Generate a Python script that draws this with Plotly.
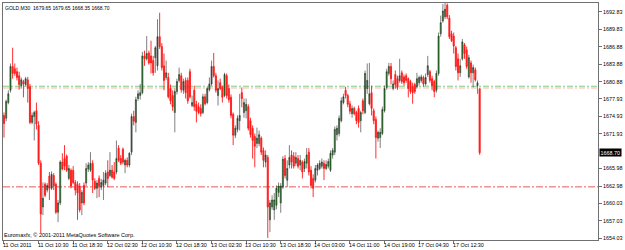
import plotly.graph_objects as go

opens = [
1675.1, 1674.6, 1677.3, 1679.4, 1683.5, 1683.1, 1682.6, 1681.9, 1680.2, 1680.9,
1680.4, 1681.2, 1680.0, 1673.9, 1674.9, 1675.9, 1673.4, 1666.9, 1659.4, 1663.3,
1662.3, 1664.7, 1662.6, 1664.8, 1663.3, 1658.5, 1660.1, 1667.1, 1667.7, 1668.1,
1664.3, 1665.7, 1665.7, 1663.6, 1663.3, 1663.0, 1660.1, 1663.1, 1663.5, 1665.9,
1665.7, 1666.9, 1663.8, 1662.6, 1664.3, 1662.8, 1663.1, 1663.5, 1665.4, 1664.8,
1665.7, 1665.4, 1665.4, 1669.5, 1667.7, 1669.3, 1666.6, 1667.4, 1666.6, 1668.8,
1674.9, 1673.9, 1678.0, 1678.5, 1679.0, 1685.3, 1684.8, 1685.8, 1685.3, 1684.5,
1685.0, 1683.6, 1688.6, 1686.9, 1683.6, 1681.6, 1681.6, 1679.7, 1678.5, 1675.6,
1679.2, 1681.1, 1681.9, 1679.4, 1681.1, 1681.1, 1682.6, 1676.8, 1679.4, 1677.0,
1676.6, 1676.3, 1675.6, 1678.3, 1677.3, 1679.5, 1680.5, 1683.5, 1681.9, 1678.5,
1680.7, 1679.9, 1678.5, 1681.9, 1679.7, 1678.2, 1675.3, 1671.7, 1672.7, 1674.2,
1679.0, 1675.6, 1675.9, 1676.6, 1674.2, 1672.9, 1671.5, 1670.3, 1670.3, 1671.2,
1669.1, 1667.1, 1667.9, 1657.2, 1659.4, 1658.9, 1659.7, 1661.9, 1660.1, 1662.8,
1667.7, 1664.0, 1666.6, 1668.3, 1668.1, 1666.9, 1667.7, 1666.6, 1667.1, 1666.0,
1666.9, 1668.8, 1665.7, 1664.3, 1664.0, 1665.7, 1666.0, 1666.4, 1666.9, 1666.0,
1666.4, 1665.7, 1668.3, 1668.8, 1671.8, 1672.0, 1674.2, 1677.3, 1679.4, 1678.5,
1677.1, 1675.4, 1676.3, 1675.6, 1676.3, 1674.2, 1677.6, 1675.6, 1679.7, 1677.1,
1679.0, 1675.9, 1674.4, 1671.2, 1671.3, 1672.0, 1675.9, 1679.9, 1682.3, 1683.5,
1679.7, 1682.1, 1681.4, 1681.1, 1682.4, 1681.7, 1681.9, 1681.4, 1680.9, 1680.0,
1680.4, 1680.0, 1680.7, 1681.1, 1681.6, 1680.5, 1682.1, 1682.6, 1681.4, 1680.9,
1679.4, 1682.3, 1689.1, 1691.3, 1692.0, 1694.0, 1691.8, 1689.1, 1688.7, 1686.7,
1684.8, 1682.4, 1684.8, 1687.2, 1686.3, 1681.7, 1684.1, 1682.4, 1682.9, 1680.2,
1679.65]

highs = [
1675.6, 1677.8, 1679.4, 1684.0, 1686.7, 1684.0, 1683.3, 1682.6, 1681.6, 1681.2,
1681.7, 1681.7, 1680.5, 1675.6, 1675.9, 1677.3, 1674.1, 1667.4, 1663.6, 1663.6,
1663.5, 1665.4, 1665.5, 1665.2, 1663.6, 1660.6, 1667.4, 1668.6, 1670.0, 1668.4,
1666.6, 1666.0, 1666.4, 1664.0, 1663.8, 1663.5, 1662.3, 1663.6, 1666.9, 1667.1,
1668.8, 1667.4, 1664.3, 1664.0, 1664.8, 1664.2, 1665.4, 1665.7, 1667.4, 1668.8,
1666.6, 1667.1, 1670.8, 1670.0, 1668.3, 1669.6, 1667.7, 1667.9, 1668.8, 1675.4,
1675.9, 1678.3, 1679.4, 1680.5, 1686.0, 1686.2, 1688.7, 1686.2, 1687.9, 1685.3,
1687.0, 1691.6, 1692.7, 1687.5, 1685.7, 1684.5, 1682.4, 1680.4, 1679.4, 1679.7,
1681.4, 1683.3, 1682.4, 1681.4, 1681.6, 1681.6, 1683.1, 1678.5, 1680.2, 1677.6,
1677.3, 1677.0, 1678.8, 1678.8, 1680.0, 1681.6, 1684.5, 1685.8, 1682.4, 1681.1,
1681.4, 1680.2, 1682.4, 1682.3, 1680.4, 1678.7, 1675.6, 1673.4, 1675.1, 1678.8,
1679.9, 1678.0, 1678.0, 1677.0, 1674.7, 1673.4, 1672.0, 1673.0, 1672.5, 1671.5,
1669.6, 1669.1, 1668.3, 1660.6, 1661.4, 1661.8, 1663.1, 1663.6, 1663.5, 1668.1,
1668.3, 1667.4, 1670.0, 1669.1, 1668.8, 1668.8, 1668.3, 1668.3, 1667.4, 1667.7,
1669.5, 1669.5, 1666.4, 1665.0, 1666.6, 1666.9, 1667.4, 1667.7, 1667.4, 1667.4,
1667.7, 1669.1, 1669.5, 1673.2, 1673.4, 1675.1, 1678.2, 1678.8, 1680.0, 1678.8,
1677.6, 1676.8, 1676.6, 1675.9, 1676.8, 1675.9, 1678.0, 1682.8, 1684.0, 1684.1,
1680.2, 1676.3, 1674.9, 1672.5, 1672.9, 1676.6, 1680.2, 1683.1, 1684.1, 1684.1,
1681.1, 1682.8, 1681.9, 1684.8, 1682.8, 1682.1, 1682.3, 1681.6, 1681.2, 1680.7,
1680.7, 1682.4, 1681.9, 1682.1, 1681.9, 1682.3, 1685.3, 1682.9, 1681.9, 1681.2,
1682.8, 1689.3, 1692.2, 1694.2, 1694.4, 1694.3, 1692.3, 1689.6, 1689.3, 1687.0,
1685.7, 1684.8, 1688.2, 1687.5, 1686.9, 1685.5, 1684.5, 1683.8, 1683.3, 1681.1,
1679.65]

lows = [
1671.3, 1674.1, 1677.0, 1679.0, 1681.4, 1681.9, 1681.1, 1679.5, 1679.7, 1678.2,
1680.0, 1677.3, 1673.6, 1673.6, 1670.8, 1672.7, 1666.6, 1654.9, 1658.0, 1661.1,
1661.9, 1660.6, 1662.3, 1662.3, 1658.2, 1656.8, 1659.7, 1665.7, 1665.7, 1665.4,
1664.0, 1662.6, 1663.3, 1661.4, 1657.2, 1658.5, 1658.0, 1659.7, 1663.0, 1665.4,
1665.4, 1661.8, 1662.3, 1660.9, 1661.1, 1662.3, 1660.6, 1663.1, 1662.8, 1664.5,
1664.3, 1664.0, 1665.0, 1667.1, 1666.6, 1666.7, 1665.2, 1666.2, 1666.2, 1668.3,
1673.4, 1672.2, 1677.6, 1677.8, 1678.7, 1683.6, 1684.5, 1683.8, 1682.3, 1681.9,
1682.4, 1682.8, 1686.5, 1682.8, 1679.4, 1681.2, 1678.0, 1677.0, 1675.9, 1672.2,
1678.7, 1680.7, 1679.0, 1678.8, 1678.0, 1677.1, 1678.0, 1676.5, 1675.9, 1673.9,
1675.3, 1674.9, 1675.3, 1676.8, 1677.0, 1679.2, 1680.2, 1681.6, 1679.0, 1676.8,
1679.4, 1677.3, 1678.2, 1678.0, 1677.3, 1674.6, 1670.0, 1671.2, 1672.2, 1672.5,
1676.5, 1674.7, 1674.6, 1672.5, 1671.3, 1667.7, 1666.2, 1669.5, 1669.8, 1668.3,
1666.2, 1666.2, 1654.1, 1655.1, 1658.9, 1657.2, 1659.0, 1661.1, 1658.4, 1662.5,
1664.3, 1662.8, 1666.0, 1666.0, 1666.0, 1666.4, 1666.0, 1665.7, 1664.3, 1665.4,
1666.0, 1664.8, 1662.6, 1661.1, 1663.6, 1664.8, 1665.7, 1666.0, 1664.0, 1665.7,
1666.0, 1665.4, 1667.7, 1668.3, 1670.8, 1671.5, 1673.9, 1677.0, 1678.0, 1676.5,
1675.3, 1674.7, 1675.1, 1673.6, 1673.0, 1672.2, 1675.3, 1675.3, 1678.8, 1676.8,
1675.1, 1673.6, 1667.7, 1670.6, 1669.5, 1671.7, 1675.6, 1679.5, 1681.9, 1680.4,
1679.4, 1679.7, 1679.5, 1680.7, 1680.5, 1680.2, 1680.7, 1678.2, 1678.8, 1677.1,
1678.8, 1679.7, 1680.2, 1680.7, 1680.0, 1680.2, 1681.7, 1680.7, 1679.4, 1678.2,
1679.0, 1681.9, 1688.6, 1691.0, 1691.6, 1691.6, 1688.2, 1687.7, 1685.7, 1682.8,
1681.1, 1681.7, 1684.5, 1684.8, 1683.1, 1681.4, 1680.7, 1679.9, 1680.9, 1678.8,
1668.35]

closes = [
1673.7, 1677.5, 1678.8, 1683.5, 1682.3, 1682.3, 1681.6, 1680.4, 1681.2, 1680.5,
1681.4, 1679.7, 1673.9, 1675.1, 1675.6, 1673.6, 1666.9, 1658.2, 1660.9, 1661.4,
1663.1, 1662.6, 1665.0, 1663.0, 1658.5, 1660.1, 1667.1, 1665.9, 1666.4, 1665.7,
1666.0, 1663.0, 1663.6, 1662.3, 1661.8, 1658.9, 1661.9, 1660.1, 1666.0, 1666.6,
1666.9, 1664.0, 1662.6, 1663.5, 1663.0, 1663.6, 1664.0, 1665.2, 1664.3, 1665.7,
1664.5, 1664.3, 1667.7, 1667.4, 1666.9, 1667.1, 1667.4, 1666.6, 1668.6, 1674.9,
1674.1, 1677.8, 1678.8, 1679.0, 1685.3, 1684.8, 1685.7, 1684.1, 1684.1, 1682.4,
1686.7, 1688.6, 1686.9, 1683.3, 1681.1, 1682.4, 1678.3, 1677.6, 1676.6, 1679.2,
1680.9, 1682.1, 1679.5, 1680.9, 1679.0, 1677.6, 1678.3, 1677.3, 1676.6, 1675.8,
1675.6, 1675.4, 1678.3, 1677.1, 1679.7, 1680.5, 1683.5, 1681.9, 1679.4, 1679.7,
1679.7, 1678.2, 1682.1, 1678.5, 1677.8, 1675.1, 1671.7, 1672.9, 1674.6, 1675.1,
1678.0, 1677.3, 1677.0, 1672.9, 1671.8, 1670.8, 1669.8, 1671.2, 1671.8, 1668.8,
1667.4, 1668.3, 1659.4, 1660.1, 1660.6, 1660.6, 1662.6, 1663.0, 1663.0, 1667.6,
1664.8, 1666.0, 1667.9, 1667.1, 1666.4, 1667.9, 1666.4, 1667.4, 1665.4, 1667.2,
1668.3, 1665.4, 1663.1, 1662.6, 1666.0, 1666.6, 1666.9, 1667.1, 1666.0, 1666.7,
1667.2, 1668.6, 1669.1, 1672.7, 1672.9, 1674.6, 1677.6, 1678.3, 1678.5, 1677.0,
1675.8, 1676.3, 1675.4, 1674.2, 1673.9, 1675.6, 1675.9, 1682.3, 1681.1, 1678.8,
1676.3, 1674.2, 1671.3, 1672.2, 1672.2, 1676.1, 1679.7, 1682.6, 1683.5, 1681.4,
1680.5, 1680.4, 1679.9, 1681.9, 1680.9, 1680.7, 1681.1, 1679.7, 1679.2, 1679.0,
1679.2, 1681.4, 1681.6, 1681.7, 1680.5, 1681.6, 1683.6, 1681.1, 1680.2, 1679.2,
1682.3, 1688.7, 1691.0, 1693.0, 1693.3, 1692.0, 1688.6, 1687.9, 1687.0, 1683.5,
1682.4, 1683.6, 1687.7, 1685.7, 1683.5, 1685.0, 1682.4, 1683.3, 1681.2, 1680.7,
1668.70]

assert len(opens) == len(highs) == len(lows) == len(closes), (len(opens), len(highs), len(lows), len(closes))

time_labels = ["11 Oct 2011", "11 Oct 10:30", "11 Oct 18:30", "12 Oct 02:30",
               "12 Oct 10:30", "12 Oct 18:30", "13 Oct 02:30", "13 Oct 10:30",
               "13 Oct 18:30", "14 Oct 03:00", "14 Oct 11:00", "14 Oct 19:00",
               "17 Oct 04:30", "17 Oct 12:30"]
time_label_bars = [0, 16, 32, 48, 64, 80, 96, 112, 128, 144, 160, 176, 192, 208]

price_ticks = [1692.83, 1689.83, 1686.88, 1683.88, 1680.88, 1677.93, 1674.93,
               1671.93, 1665.98, 1662.98, 1660.03, 1657.03, 1654.03]
current_price = 1668.70
green_level = 1680.1
pink_level = 1679.8
red_level = 1662.85

symbol_text = "GOLD,M30  1679.65 1679.65 1668.35 1668.70"
copyright_text = "Euromaxfx, © 2001-2011 MetaQuotes Software Corp."

bars = list(range(len(opens)))
FONT = "Liberation Sans"

fig = go.Figure()
fig.add_trace(go.Candlestick(
    x=bars, open=opens, high=highs, low=lows, close=closes,
    increasing=dict(line=dict(color="#2a2a2a", width=0.6), fillcolor="#1f8f1f"),
    decreasing=dict(line=dict(color="#ff1a1a", width=0.9), fillcolor="#ff1a1a"),
    whiskerwidth=0, showlegend=False, hoverinfo="skip",
))

for lvl, col, dash in [(pink_level, "#ffb0b0", "6px,2px,2px,2px"),
                       (green_level, "#7fcf7f", "6px,2px,2px,2px"),
                       (red_level, "#e65a5a", "7px,2px,2px,2px")]:
    fig.add_shape(type="line", xref="paper", x0=0, x1=1, yref="y", y0=lvl, y1=lvl,
                  line=dict(color=col, width=1, dash=dash), layer="below")

for b, t in zip(time_label_bars, time_labels):
    fig.add_annotation(x=b, xref="x", y=0, yref="paper", yanchor="top", xanchor="left",
                       text=t, showarrow=False, xshift=-2, yshift=-1,
                       font=dict(family=FONT, size=5.4, color="#000000"), borderpad=0)

fig.add_annotation(x=0, xref="paper", y=1, yref="paper", xanchor="left", yanchor="top",
                   text=symbol_text, showarrow=False, xshift=1, yshift=-1,
                   font=dict(family=FONT, size=5, color="#000000"), borderpad=0)
fig.add_annotation(x=0, xref="paper", y=0, yref="paper", xanchor="left", yanchor="bottom",
                   text=copyright_text, showarrow=False, xshift=0, yshift=1,
                   font=dict(family=FONT, size=5.5, color="#000000"), borderpad=0)
fig.add_annotation(x=1, xref="paper", y=current_price, yref="y", xanchor="left",
                   yanchor="middle", text=str("%.2f" % current_price), showarrow=False,
                   xshift=1, bgcolor="#000000", borderpad=0.5,
                   font=dict(family=FONT, size=5.4, color="#ffffff"))

fig.update_layout(
    width=625, height=250,
    margin=dict(l=2, r=21, t=2, b=10, pad=0),
    paper_bgcolor="#ffffff", plot_bgcolor="#ffffff",
    showlegend=False,
    xaxis=dict(range=[-0.46, 274.74], rangeslider=dict(visible=False),
               showgrid=False, zeroline=False, showline=True, mirror=True,
               linecolor="#707070", linewidth=1,
               tickmode="array", tickvals=time_label_bars, showticklabels=False,
               ticks="outside", ticklen=3, tickcolor="#707070"),
    yaxis=dict(range=[1653.74, 1694.37], side="right", showgrid=False, zeroline=False,
               showline=True, mirror=True, linecolor="#707070", linewidth=1,
               tickmode="array", tickvals=price_ticks,
               ticktext=["%.2f" % v for v in price_ticks],
               ticks="outside", ticklen=3, tickcolor="#707070",
               tickfont=dict(family=FONT, size=5.4, color="#000000")),
)

fig.write_html("out.html")
